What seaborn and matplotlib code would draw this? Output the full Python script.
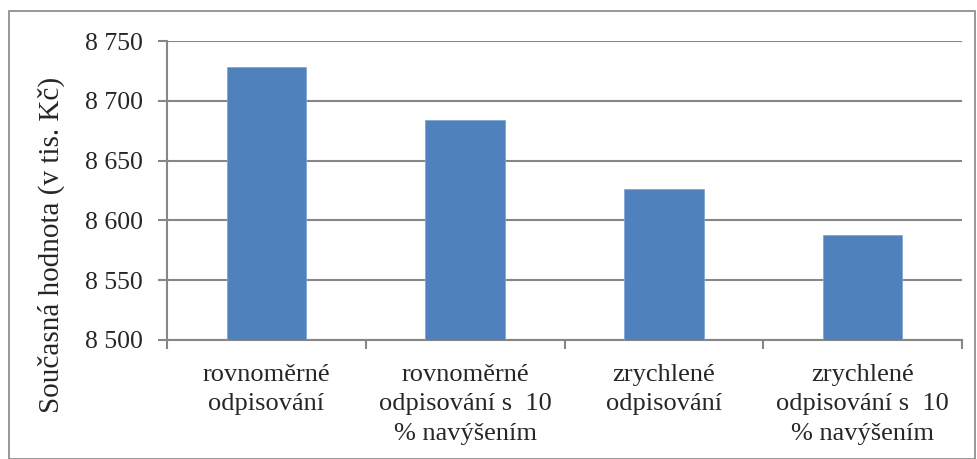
"""Present value of depreciation variants - bar chart."""

import matplotlib.pyplot as plt
import numpy as np
import pandas as pd
import seaborn as sns
from matplotlib.patches import Rectangle
from matplotlib.ticker import FuncFormatter, FixedLocator


CATEGORIES = [
    "rovnoměrné\nodpisování",
    "rovnoměrné\nodpisování s  10\n% navýšením",
    "zrychlené\nodpisování",
    "zrychlené\nodpisování s  10\n% navýšením",
]
VALUES = [8728, 8684, 8626, 8588]
Y_TICKS = [8500, 8550, 8600, 8650, 8700, 8750]

BAR_COLOR = "#4F81BD"
GRID_COLOR = "#868686"


def main() -> None:
    sns.set_theme(style="white")
    plt.rcParams["font.family"] = ["Liberation Serif", "DejaVu Serif"]

    df = pd.DataFrame({"kategorie": CATEGORIES, "hodnota": VALUES})

    fig = plt.figure(figsize=(9.77, 4.59), dpi=100)
    ax = fig.add_axes([167 / 977, 1 - 340 / 459, 795 / 977, 299 / 459])

    sns.barplot(data=df, x="kategorie", y="hodnota", color=BAR_COLOR,
                saturation=1, width=0.4, ax=ax, zorder=3)
    for p in ax.patches:
        p.set_edgecolor("#7FA6D6")
        p.set_linewidth(0.6)

    ax.set_ylim(Y_TICKS[0], Y_TICKS[-1])
    ax.set_xlim(-0.5, len(CATEGORIES) - 0.5)
    ax.set_yticks(Y_TICKS)
    ax.yaxis.set_major_formatter(
        FuncFormatter(lambda v, _: f"{int(v):,}".replace(",", " "))
    )
    ax.grid(axis="y", color=GRID_COLOR, linewidth=1.5, zorder=0)
    ax.set_axisbelow(True)

    for side in ("top", "right"):
        ax.spines[side].set_visible(False)
    for side in ("left", "bottom"):
        ax.spines[side].set_color(GRID_COLOR)
        ax.spines[side].set_linewidth(1.5)

    ax.tick_params(axis="y", which="major", length=6.5, width=1.5,
                   color=GRID_COLOR, left=True, labelsize=18.5, pad=11)
    ax.tick_params(axis="x", which="major", length=0, pad=17)
    ax.xaxis.set_minor_locator(FixedLocator(np.arange(-0.5, len(CATEGORIES), 1.0)))
    ax.tick_params(axis="x", which="minor", length=6.5, width=1.5,
                   color=GRID_COLOR, bottom=True, direction="out")
    for lbl in ax.get_xticklabels():
        lbl.set_linespacing(1.45)
        lbl.set_fontsize(19)

    ax.set_xlabel("")
    ax.set_ylabel("Současná hodnota (v tis. Kč)", fontsize=21, va="center")
    ax.yaxis.set_label_coords(-0.145, 0.318)

    fig.patches.append(Rectangle((9 / 977, 0), 966 / 977, 1 - 11 / 459,
                                 transform=fig.transFigure, fill=False,
                                 edgecolor=GRID_COLOR, linewidth=1.2))

    fig.savefig("out.png", dpi=100)
    plt.close(fig)


if __name__ == "__main__":
    main()
